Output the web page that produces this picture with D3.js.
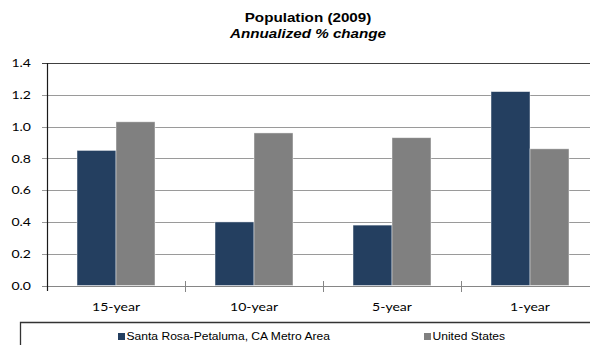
<!DOCTYPE html>
<html>
<head>
<meta charset="utf-8">
<script src="https://cdn.jsdelivr.net/npm/d3@7"></script>
<style>
  html, body { margin: 0; padding: 0; background: #fff; }
  svg { display: block; }
</style>
</head>
<body>
<svg id="chart" width="590" height="345"></svg>
<script>
// Population change by period, annualized %
const categories = ["15-year", "10-year", "5-year", "1-year"];
const seriesNames = ["Santa Rosa-Petaluma, CA Metro Area", "United States"];
const santaRosa = [0.85, 0.40, 0.38, 1.22];
const unitedStates = [1.03, 0.96, 0.93, 0.86];
const yTicks = [0, 0.2, 0.4, 0.6, 0.8, 1.0, 1.2, 1.4];
const colors = ["#243f60", "#808080"];

const W = 590, H = 345;
const plotLeft = 47.5, plotTop = 63, plotBottom = 285.5;
const stretch = 1.17; // text is drawn horizontally widened

const svg = d3.select("#chart");

const x = d3.scaleBand().domain(categories).range([47, 599]);
const xInner = d3.scaleBand().domain(seriesNames)
  .range([0, x.bandwidth()]).paddingOuter(0.77).paddingInner(0);
const y = d3.scaleLinear().domain([0, 1.4]).range([plotBottom, plotTop]);

// horizontally widened text helper
function wideText(g, tx, ty, str, anchor, font, size, weight, style, sx) {
  return g.append("text")
    .attr("transform", `translate(${tx},${ty}) scale(${sx || stretch},1)`)
    .attr("text-anchor", anchor)
    .attr("font-family", font)
    .attr("font-size", size)
    .attr("font-weight", weight || "normal")
    .attr("font-style", style || "normal")
    .attr("fill", "#000")
    .text(str);
}

// Title
wideText(svg, 308, 21.5, "Population (2009)", "middle", "Liberation Sans, Arial, sans-serif", 13, "bold");
wideText(svg, 308, 38, "Annualized % change", "middle", "Liberation Sans, Arial, sans-serif", 13, "bold", "italic");

// Gridlines
const grid = svg.append("g");
yTicks.forEach(t => {
  grid.append("line")
    .attr("x1", 42).attr("x2", W)
    .attr("y1", Math.round(y(t)) + 0.5).attr("y2", Math.round(y(t)) + 0.5)
    .attr("stroke", t === 1.4 ? "#404040" : (t === 0 ? "#868686" : "#9a9a9a"))
    .attr("stroke-width", 1);
});

// Y tick labels
yTicks.forEach(t => {
  wideText(svg, 31, y(t), d3.format(".1f")(t), "end", "Lato, Carlito, sans-serif", 12)
    .attr("dy", "0.36em");
});

// Bars
const data = categories.map((c, i) => ({ cat: c, vals: [santaRosa[i], unitedStates[i]] }));
const groups = svg.append("g").selectAll("g").data(data).join("g")
  .attr("transform", d => `translate(${x(d.cat)},0)`);
groups.selectAll("rect")
  .data(d => d.vals.map((v, j) => ({ v, s: seriesNames[j], j })))
  .join("rect")
  .attr("x", d => xInner(d.s))
  .attr("width", xInner.bandwidth())
  .attr("y", d => y(d.v))
  .attr("height", d => plotBottom - y(d.v))
  .attr("fill", d => colors[d.j])
  .attr("stroke", "rgba(255,255,255,0.55)")
  .attr("stroke-width", 0.8);

// X axis line and category ticks
svg.append("line")
  .attr("x1", plotLeft).attr("x2", W)
  .attr("y1", Math.round(y(0)) + 0.5).attr("y2", Math.round(y(0)) + 0.5)
  .attr("stroke", "#868686").attr("stroke-width", 1.2);
categories.forEach((c, i) => {
  if (i === 0) return;
  const bx = Math.round(x(c)) + 0.5;
  svg.append("line")
    .attr("x1", bx).attr("x2", bx)
    .attr("y1", 281).attr("y2", 292)
    .attr("stroke", "#868686").attr("stroke-width", 1);
});

// Y axis line
svg.append("line")
  .attr("x1", plotLeft).attr("x2", plotLeft)
  .attr("y1", plotTop).attr("y2", 291)
  .attr("stroke", "#1a1a1a").attr("stroke-width", 1.2);

// Category labels
categories.forEach(c => {
  wideText(svg, x(c) + x.bandwidth() / 2, 310.5, c, "middle", "Lato, Carlito, sans-serif", 12);
});

// Legend box
svg.append("path")
  .attr("d", `M20.5,${H} V322.5 H${W}`)
  .attr("fill", "none")
  .attr("stroke", "#333").attr("stroke-width", 1.3);

const legendX = [118, 424];
seriesNames.forEach((s, j) => {
  svg.append("rect")
    .attr("x", legendX[j]).attr("y", 333)
    .attr("width", 7).attr("height", 7)
    .attr("fill", colors[j]);
  wideText(svg, legendX[j] + 8.5, 340, s, "start", "Liberation Sans, Arial, sans-serif", 10, "normal", "normal", 1.21);
});
</script>
</body>
</html>
